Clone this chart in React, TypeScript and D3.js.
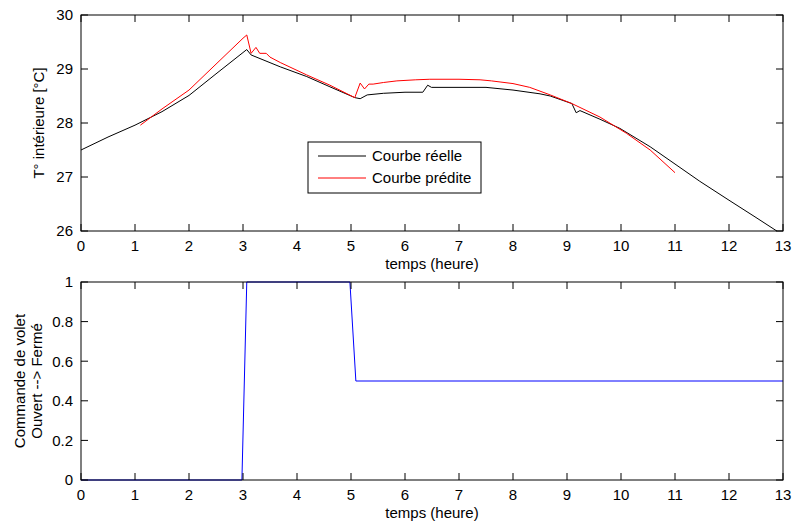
import React from "react";
import * as d3 from "d3";

const xTicks = [0, 1, 2, 3, 4, 5, 6, 7, 8, 9, 10, 11, 12, 13];
const tempTicks = [26, 27, 28, 29, 30];
const cmdTicks = [0, 0.2, 0.4, 0.6, 0.8, 1];

const reelT = [0, 0.5, 1.0, 1.5, 2.0, 2.5, 3.07, 3.15, 3.69, 4.18, 4.61, 5.07, 5.17, 5.3, 5.6, 6.0, 6.33, 6.42, 6.49, 7.0, 7.5, 8.0, 8.5, 8.69, 9.09, 9.17, 9.24, 9.61, 9.98, 10.54, 11.0, 11.46, 12.0, 12.5, 12.9];
const reelV = [27.5, 27.74, 27.96, 28.21, 28.51, 28.91, 29.36, 29.26, 29.04, 28.86, 28.67, 28.47, 28.45, 28.52, 28.55, 28.57, 28.57, 28.7, 28.66, 28.66, 28.66, 28.61, 28.54, 28.5, 28.36, 28.19, 28.23, 28.07, 27.9, 27.56, 27.24, 26.92, 26.57, 26.25, 25.99];

const predT = [1.1, 1.5, 2.0, 2.5, 3.0, 3.07, 3.15, 3.24, 3.31, 3.43, 3.5, 3.69, 4.18, 4.61, 5.07, 5.17, 5.25, 5.33, 5.41, 5.6, 5.85, 6.2, 6.46, 7.0, 7.39, 7.6, 7.76, 8.0, 8.31, 8.69, 9.09, 9.61, 10.1, 10.54, 11.0];
const predV = [27.96, 28.26, 28.61, 29.09, 29.57, 29.63, 29.29, 29.4, 29.29, 29.29, 29.22, 29.12, 28.89, 28.7, 28.47, 28.74, 28.63, 28.72, 28.72, 28.75, 28.78, 28.8, 28.81, 28.81, 28.8, 28.78, 28.76, 28.73, 28.66, 28.52, 28.36, 28.11, 27.81, 27.5, 27.08];

const cmdT = [0, 2.98, 3.07, 4.98, 5.09, 13];
const cmdV = [0, 0, 1, 1, 0.5, 0.5];

const W = 794, H = 525;
const L = 81, R = 783;
const top1 = 15, bot1 = 231;
const top2 = 282, bot2 = 480;
const FONT = "Liberation Sans, Arial, sans-serif";
const FS = 15;
const TL = 7;

function Axes({ y, yTicks, fmt, top, bot }: any) {
  const x = d3.scaleLinear().domain([0, 13]).range([L, R]);
  return (
    <g>
      {xTicks.map((t) => (
        <g key={"x" + t}>
          <line x1={x(t)} x2={x(t)} y1={bot} y2={bot - TL} stroke="#000" />
          <line x1={x(t)} x2={x(t)} y1={top} y2={top + TL} stroke="#000" />
          <text x={x(t)} y={bot + 20} textAnchor="middle" fontSize={FS} fontFamily={FONT}>{t}</text>
        </g>
      ))}
      {yTicks.map((t: number) => (
        <g key={"y" + t}>
          <line x1={L} x2={L + TL} y1={y(t)} y2={y(t)} stroke="#000" />
          <line x1={R} x2={R - TL} y1={y(t)} y2={y(t)} stroke="#000" />
          <text x={L - 8} y={y(t)} dy="0.36em" textAnchor="end" fontSize={FS} fontFamily={FONT}>{fmt(t)}</text>
        </g>
      ))}
      <rect x={L} y={top} width={R - L} height={bot - top} fill="none" stroke="#000" strokeWidth={1} />
      <text x={(L + R) / 2} y={bot + 38} textAnchor="middle" fontSize={FS} fontFamily={FONT}>temps (heure)</text>
    </g>
  );
}

export default function App() {
  const x = d3.scaleLinear().domain([0, 13]).range([L, R]);
  const y1 = d3.scaleLinear().domain([26, 30]).range([bot1, top1]);
  const y2 = d3.scaleLinear().domain([0, 1]).range([bot2, top2]);
  const line1 = d3.line<number>().x((_, i) => x(reelT[i])).y((d) => y1(d));
  const line2 = d3.line<number>().x((_, i) => x(predT[i])).y((d) => y1(d));
  const line3 = d3.line<number>().x((_, i) => x(cmdT[i])).y((d) => y2(d));
  return (
    <svg width={W} height={H} style={{ position: "absolute", left: 0, top: 0, background: "#fff" }}>
      <rect width={W} height={H} fill="#fff" />
      <defs>
        <clipPath id="c1"><rect x={L} y={top1} width={R - L} height={bot1 - top1} /></clipPath>
      </defs>
      <g clipPath="url(#c1)">
        <path d={line1(reelV) || ""} fill="none" stroke="#000" strokeWidth={1} />
        <path d={line2(predV) || ""} fill="none" stroke="#ff0000" strokeWidth={1} />
      </g>
      <Axes y={y1} yTicks={tempTicks} fmt={(t: number) => String(t)} top={top1} bot={bot1} />
      <text transform={`translate(44,${(top1 + bot1) / 2}) rotate(-90)`} textAnchor="middle" fontSize={FS} fontFamily={FONT}>T° intérieure [°C]</text>
      <g>
        <rect x={308} y={142} width={173} height={51} fill="#fff" stroke="#000" />
        <line x1={318} x2={366} y1={156} y2={156} stroke="#000" />
        <line x1={318} x2={366} y1={178} y2={178} stroke="#ff0000" />
        <text x={372} y={156} dy="0.36em" fontSize={FS} fontFamily={FONT}>Courbe réelle</text>
        <text x={372} y={178} dy="0.36em" fontSize={FS} fontFamily={FONT}>Courbe prédite</text>
      </g>
      <path d={line3(cmdV) || ""} fill="none" stroke="#0000ff" strokeWidth={1} />
      <Axes y={y2} yTicks={cmdTicks} fmt={(t: number) => String(t)} top={top2} bot={bot2} />
      <text transform={`translate(25,${(top2 + bot2) / 2}) rotate(-90)`} textAnchor="middle" fontSize={FS} fontFamily={FONT}>
        <tspan x={0} dy="0">Commande de volet</tspan>
        <tspan x={0} dy="17">Ouvert --&gt; Fermé</tspan>
      </text>
    </svg>
  );
}
